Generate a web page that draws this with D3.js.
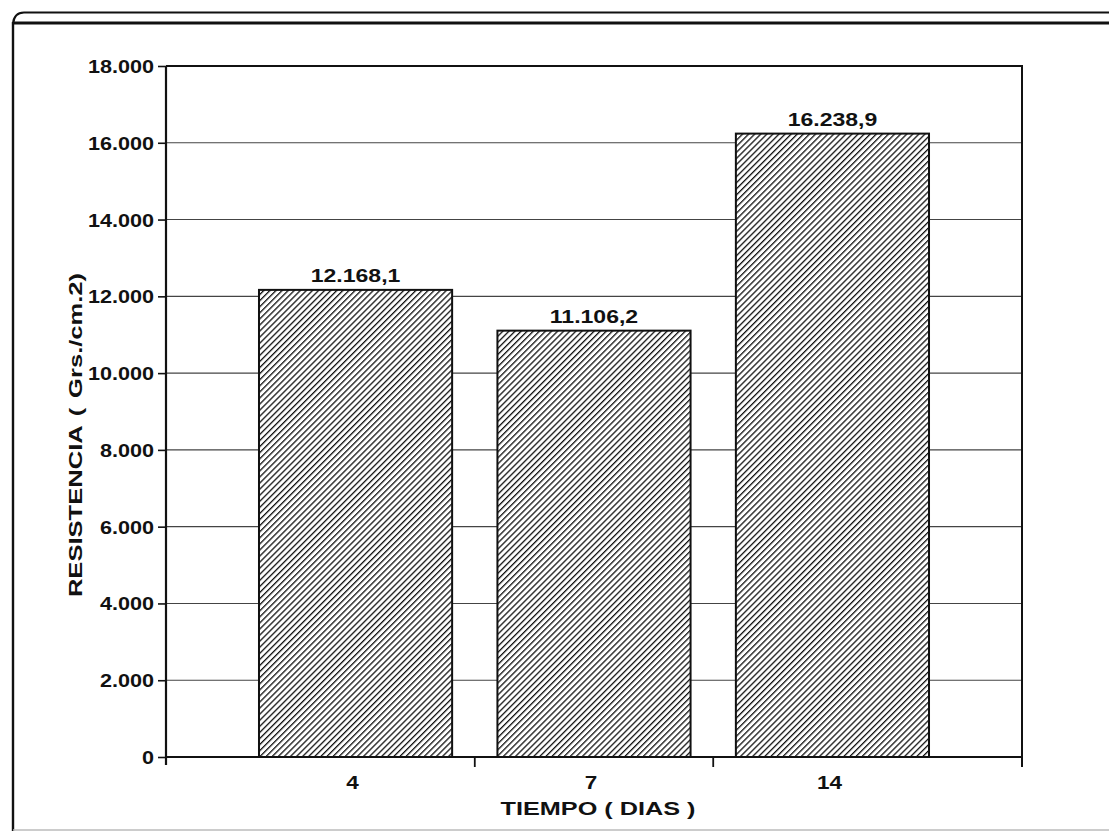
<!DOCTYPE html>
<html>
<head>
<meta charset="utf-8">
<script src="https://cdn.jsdelivr.net/npm/d3@7"></script>
<style>
  html, body { margin: 0; padding: 0; background: #fff; }
  svg { display: block; }
  text { font-family: "Liberation Sans", Arial, sans-serif; font-weight: bold; fill: #111; }
</style>
</head>
<body>
<svg id="chart" width="1109" height="831"></svg>
<script>
// Compressive strength by curing time
const categories = ["4", "7", "14"];
const values = [12168.1, 11106.2, 16238.9];
const yTicks = [0, 2000, 4000, 6000, 8000, 10000, 12000, 14000, 16000, 18000];
const yTitle = "RESISTENCIA  ( Grs./cm.2)";
const xTitle = "TIEMPO ( DIAS )";

const W = 1109, H = 831;
const margin = { left: 166, right: 87, top: 66, bottom: 74 };
const ink = "#111";

// Spanish number format: "." thousands, "," decimals
const es = d3.formatLocale({ decimal: ",", thousands: ".", grouping: [3], currency: ["", ""] });
const fmtTick = es.format(",.0f");
const fmtValue = es.format(",.1f");

const svg = d3.select("#chart");

// wide bold lettering: horizontal stretch around the anchor point
function stretch(sel, x, y, sx, rot) {
  sel.attr("x", 0).attr("y", 0).attr("dy", null)
     .attr("transform", `translate(${x},${y})${rot ? ` rotate(${rot})` : ""} scale(${sx},1)`);
}

// hatch fill for the bars
const defs = svg.append("defs");
const pat = defs.append("pattern")
  .attr("id", "hatch")
  .attr("patternUnits", "userSpaceOnUse")
  .attr("width", 4.3).attr("height", 4.3)
  .attr("patternTransform", "rotate(45)");
pat.append("rect").attr("width", 4.3).attr("height", 4.3).attr("fill", "#fff");
pat.append("line")
  .attr("x1", 0).attr("y1", 0).attr("x2", 0).attr("y2", 4.3)
  .attr("stroke", "#111").attr("stroke-width", 2.6);

// page frame: outer rule with rounded corner, inner top rule, left edge
const frameG = svg.append("g").attr("fill", "none").attr("stroke", ink);
frameG.append("path")
  .attr("d", `M${W},12.5H24Q14,12.5 13,24`)
  .attr("stroke-width", 2.2);
frameG.append("line")
  .attr("x1", 13).attr("y1", 23).attr("x2", W).attr("y2", 23)
  .attr("stroke-width", 2.8);
frameG.append("line")
  .attr("x1", 13).attr("y1", 22).attr("x2", 13).attr("y2", H)
  .attr("stroke-width", 2.4);
frameG.append("line")
  .attr("x1", 13).attr("y1", 830).attr("x2", W).attr("y2", 830)
  .attr("stroke", "#bbb").attr("stroke-width", 1.5);

const x0 = margin.left, x1 = W - margin.right;
const y0 = H - margin.bottom, y1 = margin.top;

const x = d3.scaleBand().domain(categories).range([x0, x1])
  .paddingInner(0.19).paddingOuter(0.39);
const y = d3.scaleLinear().domain([0, 18000]).range([y0, y1]);

// horizontal grid lines
svg.append("g").selectAll("line")
  .data(yTicks.slice(1, -1))
  .join("line")
  .attr("x1", x0).attr("x2", x1)
  .attr("y1", d => y(d)).attr("y2", d => y(d))
  .attr("stroke", "#444").attr("stroke-width", 1.1);

// bars
svg.append("g").selectAll("rect")
  .data(values)
  .join("rect")
  .attr("x", (d, i) => x(categories[i]))
  .attr("y", d => y(d))
  .attr("width", x.bandwidth())
  .attr("height", d => y(0) - y(d))
  .attr("fill", "url(#hatch)")
  .attr("stroke", ink).attr("stroke-width", 2);

// value labels
svg.append("g").selectAll("text")
  .data(values)
  .join("text")
  .attr("text-anchor", "middle")
  .style("font-size", "18px")
  .text(d => fmtValue(d))
  .each(function (d, i) {
    stretch(d3.select(this), x(categories[i]) + x.bandwidth() / 2, y(d) - 8, 1.28);
  });

// plot box: top and right edges
svg.append("path")
  .attr("d", `M${x0},${y1}H${x1}V${y0 + 10}`)
  .attr("fill", "none").attr("stroke", ink).attr("stroke-width", 2);

// left axis
const gy = svg.append("g").attr("transform", `translate(${x0},0)`)
  .call(d3.axisLeft(y).tickValues(yTicks).tickSize(8).tickFormat(fmtTick));
gy.select(".domain").attr("d", `M0,${y1}V${y0 + 8}`).attr("stroke", ink).attr("stroke-width", 2.2);
gy.selectAll(".tick line").attr("stroke", ink).attr("stroke-width", 1.6);
gy.selectAll(".tick text")
  .attr("text-anchor", "end")
  .style("font-size", "18px")
  .each(function () { stretch(d3.select(this), -12, 6.5, 1.2); });

// bottom axis: labels at band centres, ticks at band boundaries
const gx = svg.append("g").attr("transform", `translate(0,${y0})`)
  .call(d3.axisBottom(x).tickSize(0).tickPadding(0));
gx.select(".domain").attr("d", `M${x0},0H${x1}`).attr("stroke", ink).attr("stroke-width", 2.2);
gx.selectAll(".tick text")
  .style("font-size", "18px")
  .attr("text-anchor", "middle")
  .each(function () { stretch(d3.select(this), -3, 32, 1.25); });
const step = x.step();
const bounds = categories.slice(1).map(c => x(c) - step * x.paddingInner() / 2);
gx.selectAll(".bound")
  .data(bounds)
  .join("line")
  .attr("class", "bound")
  .attr("x1", d => d).attr("x2", d => d)
  .attr("y1", 0).attr("y2", 10)
  .attr("stroke", ink).attr("stroke-width", 1.8);

// axis titles
svg.append("text")
  .attr("text-anchor", "middle")
  .style("font-size", "19px")
  .text(xTitle)
  .call(s => stretch(s, 598, 815, 1.33));

svg.append("text")
  .attr("text-anchor", "middle")
  .style("font-size", "18px")
  .style("word-spacing", "2px")
  .text(yTitle)
  .call(s => stretch(s, 82, 435, 1.42, -90));
</script>
</body>
</html>
